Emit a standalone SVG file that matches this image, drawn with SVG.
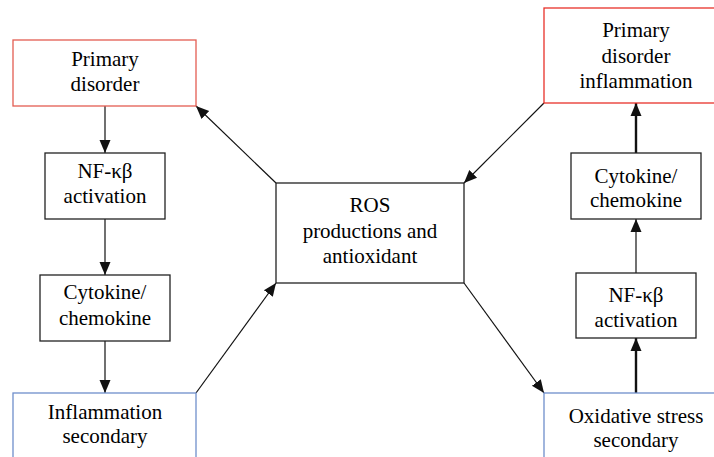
<svg xmlns="http://www.w3.org/2000/svg" width="714" height="457" viewBox="0 0 714 457">
<defs>
<marker id="ah" markerUnits="userSpaceOnUse" markerWidth="14" markerHeight="14" viewBox="0 0 14 14" refX="13" refY="7" orient="auto">
<path d="M0,1.5 L13,7 L0,12.5 Z" fill="#111"/>
</marker>
</defs>
<rect width="714" height="457" fill="#fff"/>
<g id="connectors" stroke="#111" stroke-width="1.2" fill="none" marker-end="url(#ah)">
<line x1="105" y1="106" x2="105" y2="153"/>
<line x1="105" y1="219" x2="105" y2="275"/>
<line x1="105" y1="341" x2="105" y2="393"/>
<line stroke-width="2.4" x1="636" y1="393" x2="636" y2="338"/>
<line x1="636" y1="273" x2="636" y2="219"/>
<line stroke-width="2.4" x1="636" y1="153" x2="636" y2="103"/>
<line x1="276" y1="183" x2="196" y2="106"/>
<line x1="544" y1="103" x2="464" y2="183"/>
<line x1="196" y1="393" x2="276" y2="283"/>
<line x1="464" y1="283" x2="544" y2="393"/>
</g>
<g id="primary-disorder">
<rect fill="#fff" stroke="#e35d52" stroke-width="1.3" x="13" y="40" width="183" height="66"/>
<text font-family="Times New Roman, Liberation Serif, serif" font-size="21" text-anchor="middle" x="105" y="66">Primary</text>
<text font-family="Times New Roman, Liberation Serif, serif" font-size="21" text-anchor="middle" x="105" y="91">disorder</text>
</g>
<g id="nfkb-left">
<rect fill="#fff" stroke="#222" stroke-width="1.3" x="45" y="153" width="120" height="66"/>
<text font-family="Times New Roman, Liberation Serif, serif" font-size="21" text-anchor="middle" x="105" y="178">NF-κβ</text>
<text font-family="Times New Roman, Liberation Serif, serif" font-size="21" text-anchor="middle" x="105" y="203">activation</text>
</g>
<g id="cytokine-left">
<rect fill="#fff" stroke="#222" stroke-width="1.3" x="40" y="275" width="130" height="66"/>
<text font-family="Times New Roman, Liberation Serif, serif" font-size="21" text-anchor="middle" x="105" y="299">Cytokine/</text>
<text font-family="Times New Roman, Liberation Serif, serif" font-size="21" text-anchor="middle" x="105" y="325">chemokine</text>
</g>
<g id="inflammation-secondary">
<rect fill="#fff" stroke="#6f8fcb" stroke-width="1.3" x="13" y="393" width="183" height="80"/>
<text font-family="Times New Roman, Liberation Serif, serif" font-size="21" text-anchor="middle" x="105" y="419">Inflammation</text>
<text font-family="Times New Roman, Liberation Serif, serif" font-size="21" text-anchor="middle" x="105" y="443">secondary</text>
</g>
<g id="ros">
<rect fill="#fff" stroke="#222" stroke-width="1.3" x="276" y="183" width="188" height="100"/>
<text font-family="Times New Roman, Liberation Serif, serif" font-size="21" text-anchor="middle" x="370" y="212">ROS</text>
<text font-family="Times New Roman, Liberation Serif, serif" font-size="21" text-anchor="middle" x="370" y="238">productions and</text>
<text font-family="Times New Roman, Liberation Serif, serif" font-size="21" text-anchor="middle" x="370" y="263">antioxidant</text>
</g>
<g id="primary-disorder-inflammation">
<rect fill="#fff" stroke="#e8322a" stroke-width="1.3" x="544" y="8" width="184" height="95"/>
<text font-family="Times New Roman, Liberation Serif, serif" font-size="21" text-anchor="middle" x="636" y="37">Primary</text>
<text font-family="Times New Roman, Liberation Serif, serif" font-size="21" text-anchor="middle" x="636" y="63">disorder</text>
<text font-family="Times New Roman, Liberation Serif, serif" font-size="21" text-anchor="middle" x="636" y="88">inflammation</text>
</g>
<g id="cytokine-right">
<rect fill="#fff" stroke="#222" stroke-width="1.3" x="571" y="153" width="130" height="66"/>
<text font-family="Times New Roman, Liberation Serif, serif" font-size="21" text-anchor="middle" x="636" y="183">Cytokine/</text>
<text font-family="Times New Roman, Liberation Serif, serif" font-size="21" text-anchor="middle" x="636" y="207">chemokine</text>
</g>
<g id="nfkb-right">
<rect fill="#fff" stroke="#222" stroke-width="1.3" x="576" y="273" width="120" height="65"/>
<text font-family="Times New Roman, Liberation Serif, serif" font-size="21" text-anchor="middle" x="636" y="302">NF-κβ</text>
<text font-family="Times New Roman, Liberation Serif, serif" font-size="21" text-anchor="middle" x="636" y="327">activation</text>
</g>
<g id="oxidative-stress-secondary">
<rect fill="#fff" stroke="#6f8fcb" stroke-width="1.3" x="544" y="393" width="184" height="80"/>
<text font-family="Times New Roman, Liberation Serif, serif" font-size="21" text-anchor="middle" x="636" y="423">Oxidative stress</text>
<text font-family="Times New Roman, Liberation Serif, serif" font-size="21" text-anchor="middle" x="636" y="447">secondary</text>
</g>
</svg>
